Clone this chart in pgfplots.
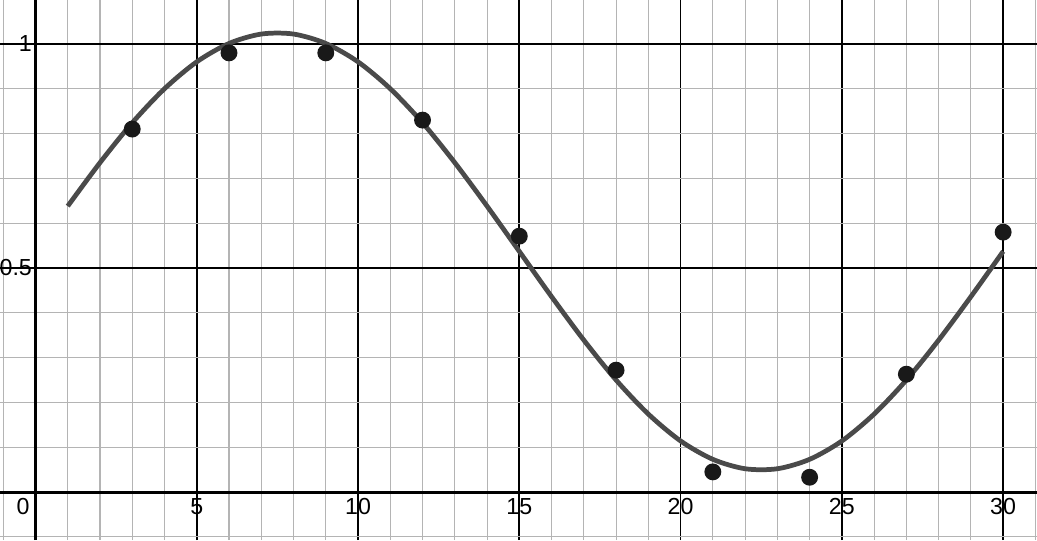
\documentclass[border=0pt]{standalone}
\usepackage{fontspec}
\setmainfont{Liberation Sans}
\usepackage{pgfplots}
\pgfplotsset{compat=1.18}

\definecolor{curvegray}{HTML}{4A4A4A}
\definecolor{minorgrid}{HTML}{B4B4B4}

\begin{document}
\begin{tikzpicture}
\begin{axis}[
  width=10.37cm, height=5.40cm,
  scale only axis,
  enlargelimits=false,
  xmin=-1.1, xmax=31.05,
  ymin=-0.107, ymax=1.098,
  axis lines=middle,
  axis line style={-, line width=0.85pt, black},
  xtick={5,10,...,30},
  ytick={0.5,1},
  minor xtick={-1,0,...,31},
  minor ytick={-0.1,0,...,1.1},
  grid=both,
  major grid style={black, line width=0.5pt},
  minor grid style={minorgrid, line width=0.3pt},
  major tick length=0pt, minor tick length=0pt,
  ticklabel style={font=\fontsize{6.6}{8}\selectfont},
  xticklabel style={yshift=1.8pt},
  yticklabel style={xshift=2.5pt},
  /pgf/number format/assume math mode=true,
  clip=true,
]
% fitted curve
\addplot[curvegray, line width=1.35pt, smooth] coordinates {
  (1,0.638) (2,0.735) (3,0.824) (4,0.900) (5,0.960) (6,1.001)
  (7,1.022) (8,1.022) (9,1.001) (10,0.960) (11,0.900) (12,0.824)
  (13,0.735) (14,0.638) (15,0.537) (16,0.436) (17,0.339) (18,0.250)
  (19,0.174) (20,0.114) (21,0.073) (22,0.052) (23,0.052) (24,0.073)
  (25,0.114) (26,0.174) (27,0.250) (28,0.339) (29,0.436) (30,0.537)
};
% data points
\addplot[only marks, mark=*, mark size=2.2pt,
  mark options={fill=black!90, draw=black!90}] coordinates {
  (3,0.81) (6,0.98) (9,0.98) (12,0.83) (15,0.571)
  (18,0.272) (21,0.045) (24,0.033) (27,0.263) (30,0.58)
};
\node[anchor=north east, font=\fontsize{6.6}{8}\selectfont, inner sep=1.5pt]
  at (axis cs:0,0) {0};
\end{axis}
\pgfresetboundingbox
\path (current axis.south west) rectangle (current axis.north east);
\end{tikzpicture}
\end{document}
